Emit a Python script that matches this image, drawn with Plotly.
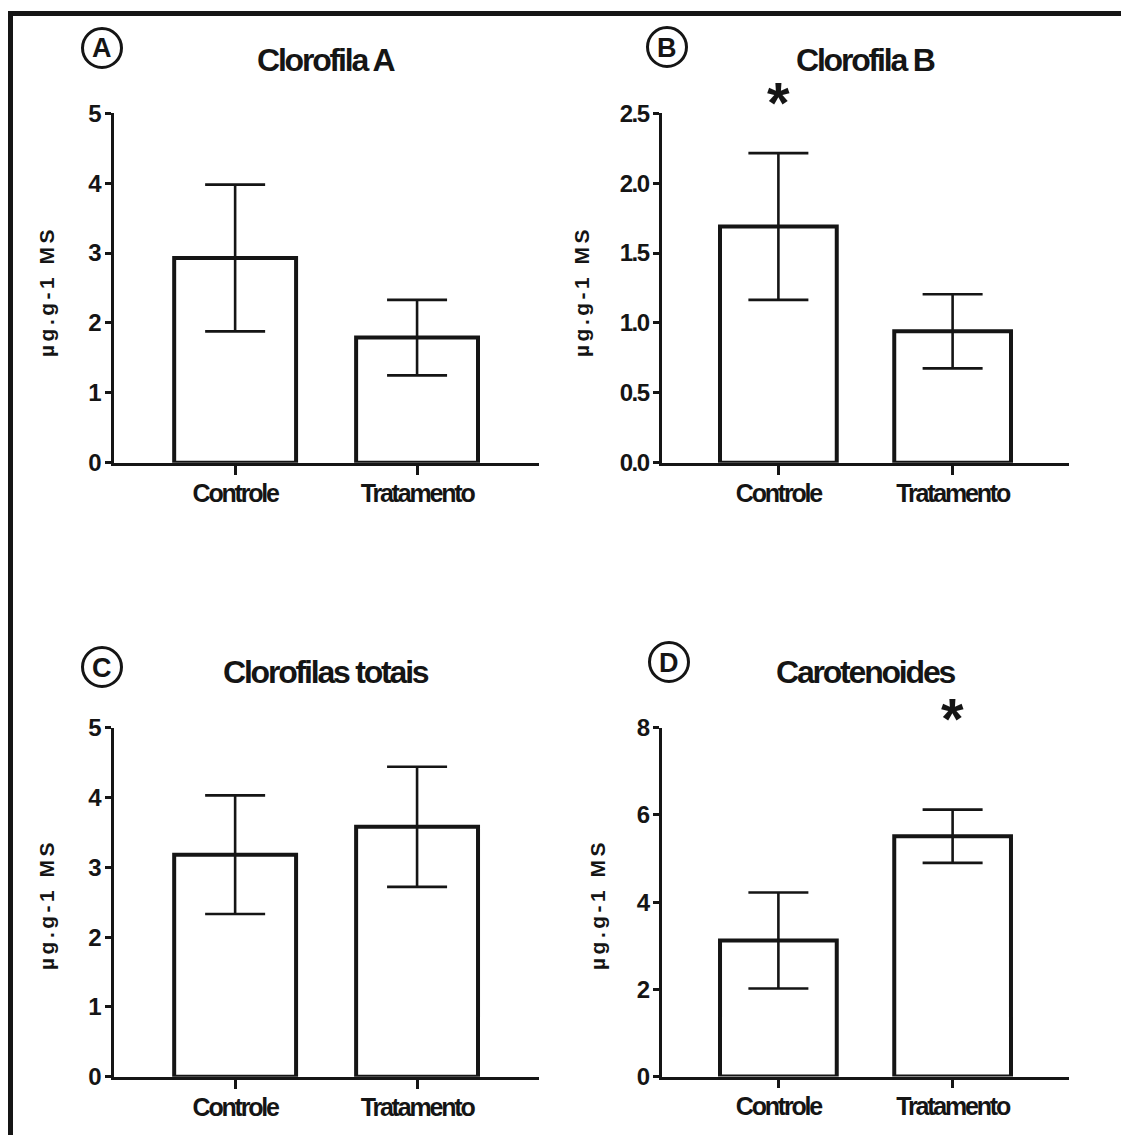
import plotly.graph_objects as go

# ---- data ----
categories = ["Controle", "Tratamento"]
panel_titles = ["Clorofila A", "Clorofila B", "Clorofilas totais", "Carotenoides"]
panel_letters = ["A", "B", "C", "D"]
y_title = "µg.g-1 MS"

clorofila_a = [2.93, 1.79]
clorofila_a_err = [1.05, 0.54]
clorofila_b = [1.69, 0.94]
clorofila_b_err = [0.525, 0.265]
clorofilas_totais = [3.18, 3.58]
clorofilas_totais_err = [0.85, 0.86]
carotenoides = [3.12, 5.51]
carotenoides_err = [1.10, 0.61]

y_ranges = [[0, 5], [0, 2.5], [0, 5], [0, 8]]
y_dticks = [1, 0.5, 1, 2]
y_formats = ["d", ".1f", "d", "d"]
significant = [None, "Controle", None, "Tratamento"]  # asterisk positions

values = [clorofila_a, clorofila_b, clorofilas_totais, carotenoides]
errors = [clorofila_a_err, clorofila_b_err, clorofilas_totais_err, carotenoides_err]

# ---- layout ----
W, H = 1129, 1135
OFF = 8  # page body margin of the html page
INK = "#151515"
FONT = "Liberation Sans, Arial, sans-serif"


def tight(s, sp):
    return '<span style="letter-spacing:%spx">%s</span>' % (sp, s)


def px_x(p):
    return (p - OFF) / W


def px_y(p):
    return 1 - (p - OFF) / H


# pixel boxes (page coordinates) of each plot area: (x0, x1, ytop, ybottom)
boxes = [
    (113.6, 538.6, 113.3, 462.7),
    (662.0, 1069.0, 113.3, 462.7),
    (113.6, 538.6, 727.7, 1076.7),
    (662.0, 1069.0, 727.7, 1076.5),
]
circle_centers = [(102, 48), (667, 47), (102, 667), (669, 662)]
ytitle_x = [46, 581, 46, 597]
ytitle_y = [292, 292, 905, 905]

fig = go.Figure()
layout = dict(
    width=W, height=H, autosize=False,
    margin=dict(l=0, r=0, t=0, b=0, pad=0, autoexpand=False),
    paper_bgcolor="white", plot_bgcolor="white",
    showlegend=False,
    shapes=[], annotations=[],
)

for i in range(4):
    n = "" if i == 0 else str(i + 1)
    xa, ya = "x" + n, "y" + n
    fig.add_trace(go.Bar(
        x=categories, y=values[i],
        xaxis=xa, yaxis=ya,
        width=0.67,
        marker=dict(color="white", line=dict(color=INK, width=4)),
        error_y=dict(type="data", array=errors[i], visible=True,
                     color=INK, thickness=2.6, width=30),
        hoverinfo="skip",
    ))
    x0, x1, yt, yb = boxes[i]
    tv = [k * y_dticks[i] for k in range(int(round(y_ranges[i][1] / y_dticks[i])) + 1)]
    tt = [tight(format(v, y_formats[i]) if y_formats[i] != "d" else str(int(v)), -1.6) for v in tv]
    layout["xaxis" + n] = dict(
        domain=[px_x(x0), px_x(x1)], anchor=ya,
        range=[-0.668, 1.668], type="category",
        tickmode="array", tickvals=categories,
        ticktext=[tight(c, -2.2) for c in categories],
        showline=True, linecolor=INK, linewidth=2.6,
        ticks="outside", ticklen=9, tickwidth=2.6, tickcolor=INK,
        showgrid=False, zeroline=False, automargin=False,
        tickfont=dict(family=FONT, size=25, color=INK, weight="bold"),
        ticklabelstandoff=-3,
        fixedrange=True,
    )
    layout["yaxis" + n] = dict(
        domain=[px_y(yb), px_y(yt)], anchor=xa,
        range=y_ranges[i], tickmode="array", tickvals=tv, ticktext=tt,
        showline=True, linecolor=INK, linewidth=2.6,
        ticks="outside", ticklen=6, tickwidth=2.6, tickcolor=INK,
        showgrid=False, zeroline=False, automargin=False,
        tickfont=dict(family=FONT, size=24, color=INK, weight="bold"),
        ticklabelstandoff=0,
        fixedrange=True,
    )
    # panel title
    title_y = 1 + (yt - (60 if i < 2 else 672)) / (yb - yt)
    layout["annotations"].append(dict(
        xref=xa + " domain", yref=ya + " domain", x=0.5, y=title_y,
        text=tight(panel_titles[i], -2.2), showarrow=False,
        xanchor="center", yanchor="middle",
        font=dict(family=FONT, size=32, color=INK, weight="bold"),
    ))
    # y-axis title
    layout["annotations"].append(dict(
        xref="paper", yref="paper", x=px_x(ytitle_x[i]), y=px_y(ytitle_y[i]),
        text=tight(y_title, 3.5), textangle=-90, showarrow=False,
        xanchor="center", yanchor="middle",
        font=dict(family=FONT, size=21, color=INK, weight="bold"),
    ))
    # circled panel letter
    cx, cy = circle_centers[i]
    r = 19.5
    layout["shapes"].append(dict(
        type="circle", xref="paper", yref="paper",
        x0=px_x(cx - r), x1=px_x(cx + r), y0=px_y(cy + r), y1=px_y(cy - r),
        line=dict(color=INK, width=3), fillcolor="rgba(0,0,0,0)",
    ))
    layout["annotations"].append(dict(
        xref="paper", yref="paper", x=px_x(cx), y=px_y(cy + 0.5),
        text=panel_letters[i], showarrow=False, xanchor="center", yanchor="middle",
        font=dict(family=FONT, size=27, color=INK, weight="bold"),
    ))
    # significance asterisk
    if significant[i] is not None:
        star_px = 92 if i < 2 else 708
        layout["annotations"].append(dict(
            xref=xa, yref=ya + " domain", x=significant[i],
            y=1 + (yt - star_px) / (yb - yt),
            text="*", showarrow=False, xanchor="center", yanchor="middle",
            yshift=-10,
            font=dict(family=FONT, size=58, color=INK, weight="bold"),
        ))

# outer frame (top and left edges only)
layout["shapes"].append(dict(type="line", xref="paper", yref="paper",
                             x0=px_x(8), x1=1, y0=px_y(13.5), y1=px_y(13.5),
                             line=dict(color=INK, width=5)))
layout["shapes"].append(dict(type="line", xref="paper", yref="paper",
                             x0=px_x(10.5), x1=px_x(10.5), y0=px_y(11), y1=0,
                             line=dict(color=INK, width=5)))

fig.update_layout(**layout)
fig.write_html("out.html")
